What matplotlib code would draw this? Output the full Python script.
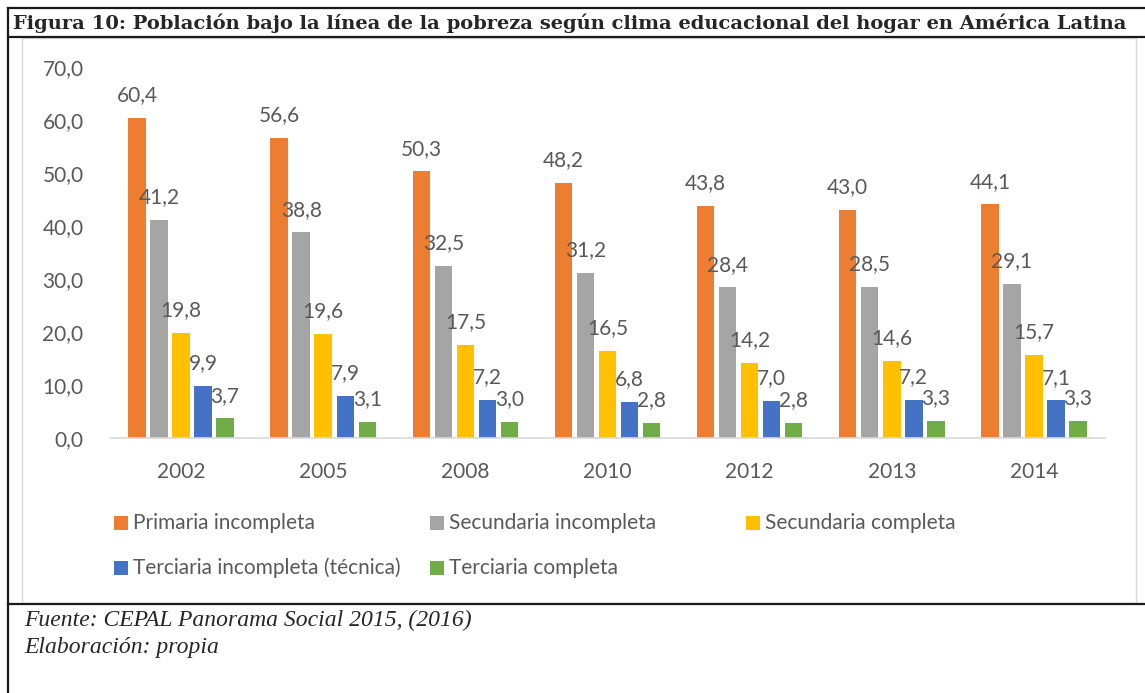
"""
Figura 10: poverty by household educational climate, Latin America.
Bars grouped by year, one series per education level.
"""

import matplotlib.pyplot as plt
from matplotlib.lines import Line2D
from matplotlib.patches import Rectangle
import numpy as np

# Data
years = ["2002", "2005", "2008", "2010", "2012", "2013", "2014"]
primaria_incompleta = [60.4, 56.6, 50.3, 48.2, 43.8, 43.0, 44.1]
secundaria_incompleta = [41.2, 38.8, 32.5, 31.2, 28.4, 28.5, 29.1]
secundaria_completa = [19.8, 19.6, 17.5, 16.5, 14.2, 14.6, 15.7]
terciaria_incompleta = [9.9, 7.9, 7.2, 6.8, 7.0, 7.2, 7.1]
terciaria_completa = [3.7, 3.1, 3.0, 2.8, 2.8, 3.3, 3.3]

series_names = [
    "Primaria incompleta",
    "Secundaria incompleta",
    "Secundaria completa",
    "Terciaria incompleta (técnica)",
    "Terciaria completa",
]
series_values = [
    primaria_incompleta,
    secundaria_incompleta,
    secundaria_completa,
    terciaria_incompleta,
    terciaria_completa,
]
y_ticks = [0, 10, 20, 30, 40, 50, 60, 70]

title = ("Figura 10: Población bajo la línea de la pobreza según clima "
         "educacional del hogar en América Latina")
source_lines = ["Fuente: CEPAL Panorama Social 2015, (2016)", "Elaboración: propia"]

colors = ["#ED7D31", "#A5A5A5", "#FFC000", "#4472C4", "#70AD47"]
text_gray = "#595959"

W, H = 1145, 693


def fx(x):
    return x / W


def fy(y):
    return 1 - y / H


def comma(v):
    return f"{v:.1f}".replace(".", ",")


fig = plt.figure(figsize=(W / 100, H / 100), dpi=100)
fig.patch.set_facecolor("white")

# Page frame lines (black) and the chart's light border
for x0, y0, x1, y1 in [(8, 8, 1145, 8), (8, 37, 1145, 37),
                       (8, 8, 8, 693), (8, 604, 1145, 604)]:
    fig.add_artist(Line2D([fx(x0), fx(x1)], [fy(y0), fy(y1)],
                          transform=fig.transFigure, color="#1a1a1a", lw=1.6))
fig.add_artist(Rectangle((fx(22), fy(603)), fx(1136) - fx(22), fy(38) - fy(603),
                         transform=fig.transFigure, fill=False,
                         edgecolor="#D9D9D9", lw=1))

fig.text(fx(13), fy(23), title, fontsize=14, fontweight="bold",
         family="DejaVu Serif", color="#262626", va="center", ha="left")
for i, line in enumerate(source_lines):
    fig.text(fx(24), fy(620 + 28 * i), line, fontsize=17, style="italic",
             family="Liberation Serif", color="#262626", va="center", ha="left")

# Plot area
ax = fig.add_axes([fx(110), fy(438), fx(1105) - fx(110), fy(67) - fy(438)])
x = np.arange(len(years))
step = 0.155
width = 0.123
for i, (name, vals) in enumerate(zip(series_names, series_values)):
    pos = x + (i - 2) * step
    bars = ax.bar(pos, vals, width, color=colors[i], label=name, linewidth=0)
    for b, v in zip(bars, vals):
        ax.annotate(comma(v), (b.get_x() + b.get_width() / 2, v),
                    xytext=(0, 12), textcoords="offset points",
                    ha="center", va="baseline", fontsize=15,
                    family="Lato", color=text_gray)

ax.set_xlim(-0.5, len(years) - 0.5)
ax.set_ylim(0, 70)
ax.set_yticks(y_ticks)
ax.set_yticklabels([comma(t) for t in y_ticks])
ax.set_xticks(x)
ax.set_xticklabels(years)
for lab in ax.get_xticklabels() + ax.get_yticklabels():
    lab.set_family("Lato")
    lab.set_fontsize(15)
    lab.set_color(text_gray)
ax.tick_params(axis="x", length=0, pad=17)
ax.tick_params(axis="y", length=0, pad=19)
for s in ["top", "right", "left"]:
    ax.spines[s].set_visible(False)
ax.spines["bottom"].set_color("#D9D9D9")
ax.spines["bottom"].set_linewidth(1.2)

# Legend laid out like the spreadsheet one: three equal columns, two rows
col_x = [114, 430, 746]
row_y = [523, 568]
for i, name in enumerate(series_names):
    cx = col_x[i % 3]
    cy = row_y[i // 3]
    fig.add_artist(Rectangle((fx(cx), fy(cy + 7)), fx(14), 14 / H,
                             transform=fig.transFigure, color=colors[i], lw=0))
    fig.text(fx(cx + 19), fy(cy), name, fontsize=15, family="Lato",
             color=text_gray, va="center", ha="left")

fig.savefig("out.png", dpi=100)
